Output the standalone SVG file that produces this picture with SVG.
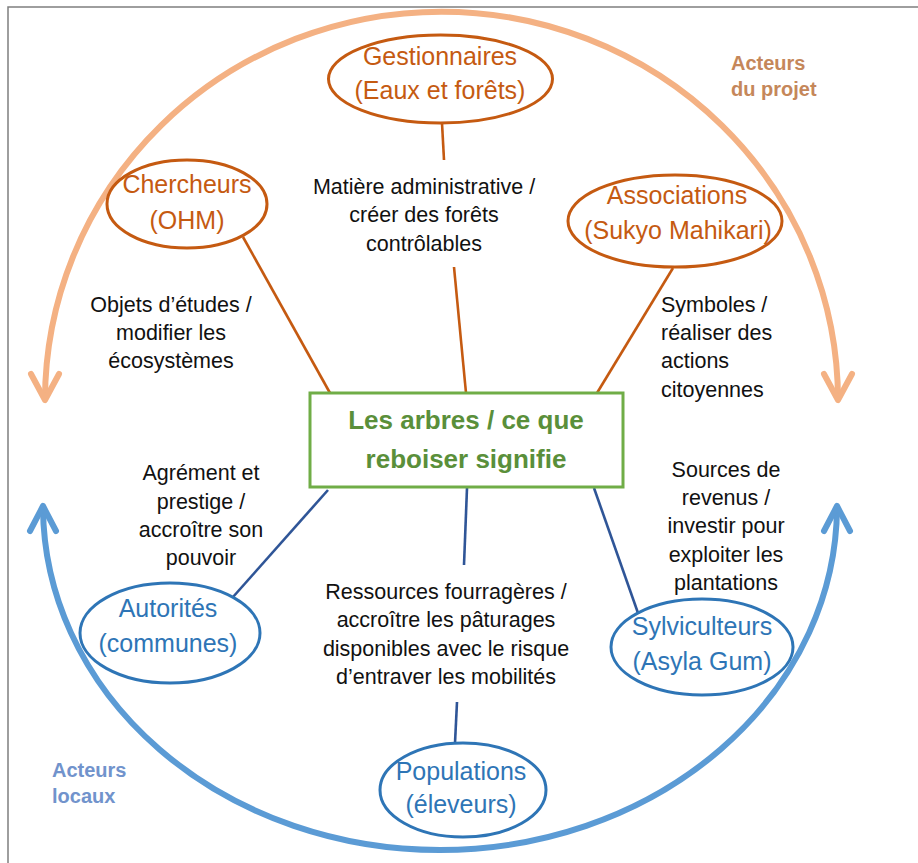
<svg xmlns="http://www.w3.org/2000/svg" width="918" height="863" viewBox="0 0 918 863">
<defs>
<style>
.node-o{fill:none;stroke:#C55A11;stroke-width:3}
.node-b{fill:none;stroke:#2E75B6;stroke-width:3}
.t{font-family:"Liberation Sans",Arial,sans-serif;text-anchor:middle}
.to{fill:#C55A11;font-size:25px}
.tb{fill:#2E75B6;font-size:25px}
.lbl{font-family:"Liberation Sans",Arial,sans-serif;font-size:21.5px;fill:#111;text-anchor:middle}
.lbl.left{text-anchor:start}
.c-o{stroke:#C55A11;stroke-width:2.6;fill:none}
.c-b{stroke:#2F5597;stroke-width:2.6;fill:none}
.grp{font-family:"Liberation Sans",Arial,sans-serif;font-size:20px;font-weight:bold}
</style>
<marker id="arrO" markerUnits="userSpaceOnUse" orient="auto-start-reverse" refX="0" refY="0" markerWidth="40" markerHeight="40" overflow="visible">
<path d="M-26,-14 L0,0 L-26,14" fill="none" stroke="#F4B183" stroke-width="6" stroke-linecap="round" stroke-linejoin="round"/>
</marker>
<marker id="arrB" markerUnits="userSpaceOnUse" orient="auto-start-reverse" refX="0" refY="0" markerWidth="40" markerHeight="40" overflow="visible">
<path d="M-25,-13 L0,0 L-25,13" fill="none" stroke="#5B9BD5" stroke-width="6" stroke-linecap="round" stroke-linejoin="round"/>
</marker>
</defs>
<rect width="918" height="863" fill="#FFFFFF"/>
<path d="M8,863 V7 H918" fill="none" stroke="#7F7F7F" stroke-width="1.5"/>

<g id="cycles">
<path d="M45,400 A396 388 0 0 1 838,400" fill="none" stroke="#F4B183" stroke-width="6" marker-start="url(#arrO)" marker-end="url(#arrO)"/>
<path d="M43,506 A397 344 0 0 0 837,506" fill="none" stroke="#5B9BD5" stroke-width="6" marker-start="url(#arrB)" marker-end="url(#arrB)"/>
</g>

<g id="connectors">
<line class="c-o" x1="442" y1="123" x2="444" y2="160"/>
<line class="c-o" x1="454" y1="267" x2="466" y2="393"/>
<line class="c-o" x1="243" y1="237" x2="330" y2="393"/>
<line class="c-o" x1="673" y1="268" x2="597" y2="393"/>
<line class="c-b" x1="328" y1="490" x2="233" y2="597"/>
<line class="c-b" x1="467" y1="488" x2="464" y2="565"/>
<line class="c-b" x1="457" y1="702" x2="455" y2="743"/>
<line class="c-b" x1="594" y1="488" x2="638" y2="613"/>
</g>

<g id="center">
<rect x="310" y="393" width="313" height="94" fill="none" stroke="#70AD47" stroke-width="3"/>
<text class="t" x="466" y="429" font-size="26" font-weight="bold" fill="#5A8F3A">Les arbres / ce que</text>
<text class="t" x="466" y="468" font-size="26" font-weight="bold" fill="#5A8F3A">reboiser signifie</text>
</g>

<g id="gestionnaires">
<ellipse class="node-o" cx="440.5" cy="79" rx="112" ry="44"/>
<text class="t to" x="440" y="65">Gestionnaires</text>
<text class="t to" x="440" y="99">(Eaux et forêts)</text>
</g>

<g id="chercheurs">
<ellipse class="node-o" cx="187" cy="204" rx="80" ry="44"/>
<text class="t to" x="187" y="193">Chercheurs</text>
<text class="t to" x="187" y="229">(OHM)</text>
</g>

<g id="associations">
<ellipse class="node-o" cx="675" cy="221" rx="107" ry="46"/>
<text class="t to" x="677" y="204">Associations</text>
<text class="t to" x="678" y="239">(Sukyo Mahikari)</text>
</g>

<g id="autorites">
<ellipse class="node-b" cx="170" cy="633" rx="90" ry="50"/>
<text class="t tb" x="168" y="617">Autorités</text>
<text class="t tb" x="168" y="652">(communes)</text>
</g>

<g id="populations">
<ellipse class="node-b" cx="463" cy="790" rx="83" ry="47"/>
<text class="t tb" x="461" y="780">Populations</text>
<text class="t tb" x="461" y="813">(éleveurs)</text>
</g>

<g id="sylviculteurs">
<ellipse class="node-b" cx="702" cy="647" rx="91" ry="48"/>
<text class="t tb" x="702" y="635">Sylviculteurs</text>
<text class="t tb" x="702" y="670">(Asyla Gum)</text>
</g>

<g id="labels">
<text class="lbl" x="424" y="194">Matière administrative /</text>
<text class="lbl" x="424" y="222">créer des forêts</text>
<text class="lbl" x="424" y="251">contrôlables</text>

<text class="lbl" x="171" y="312">Objets d’études /</text>
<text class="lbl" x="171" y="340">modifier les</text>
<text class="lbl" x="171" y="368">écosystèmes</text>

<text class="lbl left" x="661" y="312">Symboles /</text>
<text class="lbl left" x="661" y="340">réaliser des</text>
<text class="lbl left" x="661" y="368">actions</text>
<text class="lbl left" x="661" y="397">citoyennes</text>

<text class="lbl" x="201" y="480">Agrément et</text>
<text class="lbl" x="201" y="509">prestige /</text>
<text class="lbl" x="201" y="537">accroître son</text>
<text class="lbl" x="201" y="565">pouvoir</text>

<text class="lbl" x="446" y="599">Ressources fourragères /</text>
<text class="lbl" x="446" y="627">accroître les pâturages</text>
<text class="lbl" x="446" y="656">disponibles avec le risque</text>
<text class="lbl" x="446" y="684">d’entraver les mobilités</text>

<text class="lbl" x="726" y="477">Sources de</text>
<text class="lbl" x="726" y="505">revenus /</text>
<text class="lbl" x="726" y="533">investir pour</text>
<text class="lbl" x="726" y="562">exploiter les</text>
<text class="lbl" x="726" y="590">plantations</text>
</g>

<g id="groups">
<text class="grp" x="731" y="70" fill="#C5875A">Acteurs</text>
<text class="grp" x="731" y="96" fill="#C5875A">du projet</text>
<text class="grp" x="52" y="777" fill="#7193CC">Acteurs</text>
<text class="grp" x="52" y="803" fill="#7193CC">locaux</text>
</g>
</svg>
